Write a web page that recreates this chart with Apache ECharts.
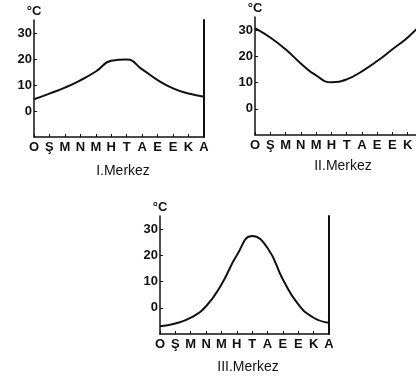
<!DOCTYPE html>
<html>
<head>
<meta charset="utf-8">
<script src="https://cdn.jsdelivr.net/npm/echarts@6/dist/echarts.min.js"></script>
<style>
html,body{margin:0;padding:0;background:#fff;overflow:hidden;}
#c{width:416px;height:381px;}
</style>
</head>
<body>
<div id="c"></div>
<script>
var months = ['O','Ş','M','N','M','H','T','A','E','E','K','A'];
var yTicks = [0, 10, 20, 30];
var titles = ['I.Merkez', 'II.Merkez', 'III.Merkez'];
var merkez1 = [4.5, 6.7, 9, 11.8, 15.2, 19.3, 19.8, 16, 11.9, 8.7, 6.7, 5.5];
var merkez2 = [30.8, 27.2, 22.7, 17.3, 12.7, 10.1, 11.2, 14.3, 18.2, 22.7, 27.2, 33];
var merkez3 = [-7, -6, -3.8, 0.6, 8.9, 20, 27.4, 22.8, 10.8, 1.3, -3.8, -5.7];

var FONT = 'Liberation Sans';
var grids = [
  {left: 34, top: 20, width: 170, height: 117},
  {left: 255, top: 17, width: 168, height: 118},
  {left: 160, top: 216, width: 169, height: 118}
];
var titlePos = [
  {x: 123, y: 164},
  {x: 343, y: 159},
  {x: 248, y: 360}
];
var series = [merkez1, merkez2, merkez3];

var option = {
  backgroundColor: '#fff',
  animation: false,
  title: titles.map(function(t, i){
    return {text: t, left: titlePos[i].x, top: titlePos[i].y, textAlign: 'center', padding: 0,
      textStyle: {fontFamily: FONT, fontSize: 14, fontWeight: 'normal', color: '#111'}};
  }),
  grid: grids.map(function(g){ return Object.assign({containLabel: false, outerBoundsMode: 'none'}, g); }),
  xAxis: grids.map(function(g, i){
    return {type: 'category', gridIndex: i, data: months, boundaryGap: false,
      axisLine: {onZero: false, lineStyle: {color: '#111', width: 1.5}},
      axisTick: {inside: true, length: 3, lineStyle: {color: '#111'}},
      axisLabel: {interval: 0, margin: 4, color: '#111', fontFamily: FONT, fontSize: 13, fontWeight: 'bold'},
      splitLine: {show: false}};
  }),
  yAxis: [],
  series: []
};
grids.forEach(function(g, i){
  option.yAxis.push({type: 'value', gridIndex: i, min: -10, max: 35, interval: 10, position: 'left',
    name: '°C', nameLocation: 'end', nameGap: 2,
    nameTextStyle: {color: '#111', fontFamily: FONT, fontSize: 13, fontWeight: 'bold', align: 'center'},
    axisLine: {show: true, lineStyle: {color: '#111', width: 1.5}},
    axisTick: {show: true, inside: true, length: 3, customValues: yTicks, lineStyle: {color: '#111'}},
    axisLabel: {customValues: yTicks, margin: 2, color: '#111', fontFamily: FONT, fontSize: 13, fontWeight: 'bold'},
    splitLine: {show: false}});
});
// right border lines for charts I and III
[0, 2].forEach(function(i){
  option.yAxis.push({type: 'value', gridIndex: i, min: -10, max: 35, position: 'right',
    axisLine: {show: true, lineStyle: {color: '#111', width: 2}},
    axisTick: {show: false}, axisLabel: {show: false}, splitLine: {show: false}});
});
series.forEach(function(d, i){
  option.series.push({type: 'line', xAxisIndex: i, yAxisIndex: i, data: d, smooth: 0.5,
    symbol: 'none', lineStyle: {color: '#111', width: 2}});
});
var chart = echarts.init(document.getElementById('c'), null, {renderer: 'canvas'});
chart.setOption(option);
</script>
</body>
</html>
